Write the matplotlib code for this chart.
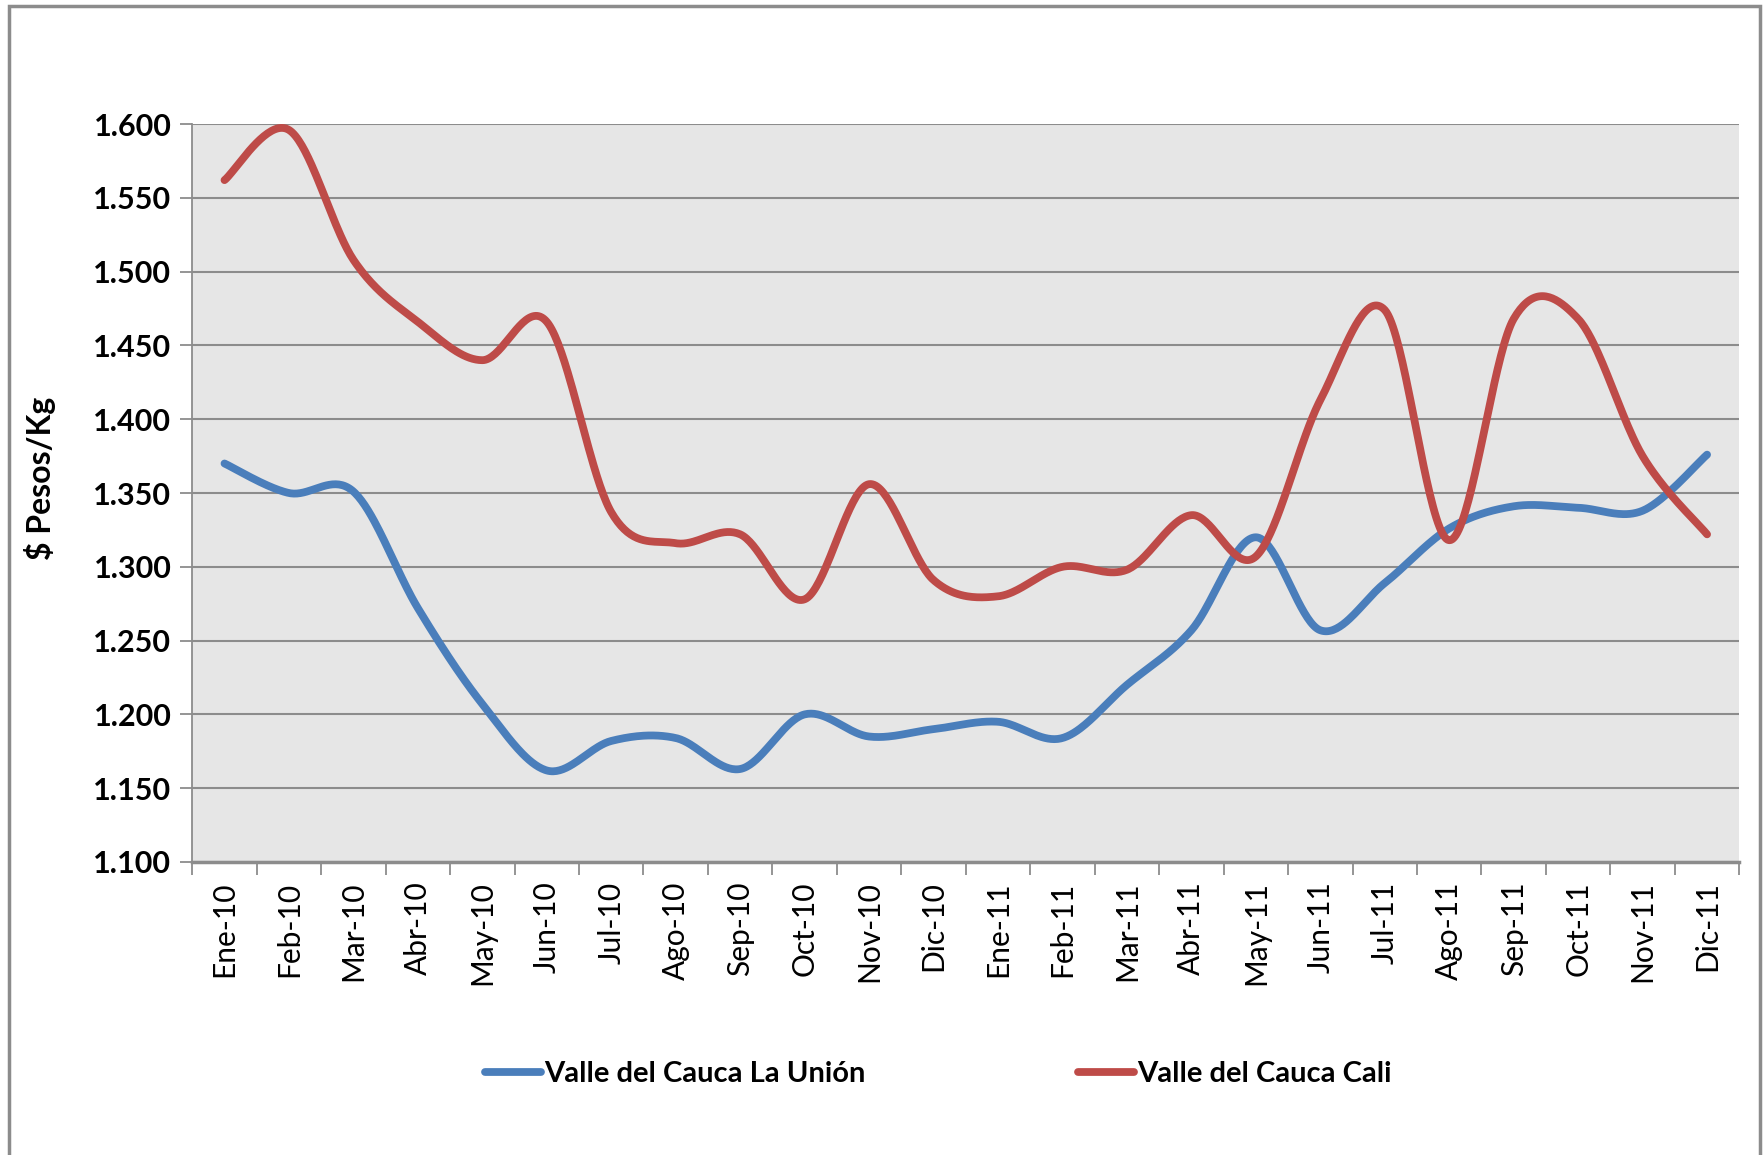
import numpy as np
import matplotlib
matplotlib.use("Agg")
import matplotlib.pyplot as plt
from matplotlib.patches import Rectangle

months = ["Ene-10", "Feb-10", "Mar-10", "Abr-10", "May-10", "Jun-10", "Jul-10", "Ago-10",
          "Sep-10", "Oct-10", "Nov-10", "Dic-10", "Ene-11", "Feb-11", "Mar-11", "Abr-11",
          "May-11", "Jun-11", "Jul-11", "Ago-11", "Sep-11", "Oct-11", "Nov-11", "Dic-11"]
la_union = [1370, 1350, 1351, 1272, 1207, 1162, 1182, 1184, 1163, 1200, 1185, 1190,
            1195, 1184, 1220, 1257, 1320, 1257, 1289, 1326, 1341, 1340, 1338, 1376]
cali = [1562, 1596, 1508, 1466, 1440, 1466, 1337, 1316, 1322, 1278, 1356, 1291,
        1280, 1300, 1298, 1335, 1307, 1413, 1474, 1318, 1468, 1468, 1375, 1322]
series_names = ["Valle del Cauca La Unión", "Valle del Cauca Cali"]
yticks = [1100, 1150, 1200, 1250, 1300, 1350, 1400, 1450, 1500, 1550, 1600]

plt.rcParams['font.family'] = ['Lato', 'DejaVu Sans']


def smooth(xs, ys, n=40):
    """Excel-like smoothing: cubic Bezier with Catmull-Rom control points."""
    xs = np.asarray(xs, float)
    ys = np.asarray(ys, float)
    P = np.column_stack([xs, ys])
    out = []
    m = len(P)
    for i in range(m - 1):
        p0 = P[i - 1] if i > 0 else P[i]
        p1 = P[i]
        p2 = P[i + 1]
        p3 = P[i + 2] if i + 2 < m else P[i + 1]
        c1 = p1 + (p2 - p0) / 6.0
        c2 = p2 - (p3 - p1) / 6.0
        t = np.linspace(0, 1, n, endpoint=(i == m - 2))[:, None]
        b = ((1 - t) ** 3) * p1 + 3 * ((1 - t) ** 2) * t * c1 + 3 * (1 - t) * t ** 2 * c2 + t ** 3 * p2
        out.append(b)
    out = np.vstack(out)
    return out[:, 0], out[:, 1]


fig = plt.figure(figsize=(17.64, 11.55), dpi=100)
ax = fig.add_axes([0.109, 0.2537, 0.877, 0.6389])
ax.set_facecolor('#E6E6E6')

x = np.arange(len(months))
colors = ['#4A7EBB', '#BE4B48']
for vals, col, name in zip([la_union, cali], colors, series_names):
    sx, sy = smooth(x, vals)
    ax.plot(sx, sy, color=col, lw=5.6, solid_capstyle='round', label=name, zorder=3)

ax.set_xlim(-0.5, len(months) - 0.5)
ax.set_ylim(1100, 1600)
ax.set_yticks(yticks)
ax.set_yticklabels([f"{v/1000:.3f}" for v in yticks], fontsize=22, fontweight='bold')
ax.yaxis.grid(True, color='#8C8C8C', lw=1.5, zorder=1)
ax.set_axisbelow(True)

ax.set_xticks(x)
ax.set_xticklabels(months, rotation=90, fontsize=21.5)
ax.set_xticks(np.arange(-0.5, len(months)), minor=True)
ax.tick_params(axis='x', which='major', length=0, pad=14)
ax.tick_params(axis='x', which='minor', length=9, width=1.3, color='#8C8C8C', direction='out')
ax.tick_params(axis='y', length=9, width=1.3, color='#8C8C8C', direction='out', pad=6)

for s in ['top', 'right']:
    ax.spines[s].set_visible(False)
ax.spines['left'].set_color('#8C8C8C')
ax.spines['left'].set_linewidth(1.3)
ax.spines['bottom'].set_color('#8C8C8C')
ax.spines['bottom'].set_linewidth(2.5)

ax.set_ylabel("$ Pesos/Kg", fontsize=23, fontweight='bold', labelpad=12)
ax.yaxis.set_label_coords(-0.088, 0.52)

leg = fig.legend(loc='center', bbox_to_anchor=(0.532, 0.07), ncol=2, frameon=False,
                 prop={'size': 21, 'weight': 'bold'}, handlelength=1.9, handletextpad=0.12,
                 columnspacing=7.3)
for h in leg.get_lines():
    h.set_linewidth(5.6)

fig.patches.append(Rectangle((0.005, -0.01), 0.993, 1.005, transform=fig.transFigure,
                             fill=False, edgecolor='#8C8C8C', lw=2.5))

fig.savefig("out.png", dpi=100)
